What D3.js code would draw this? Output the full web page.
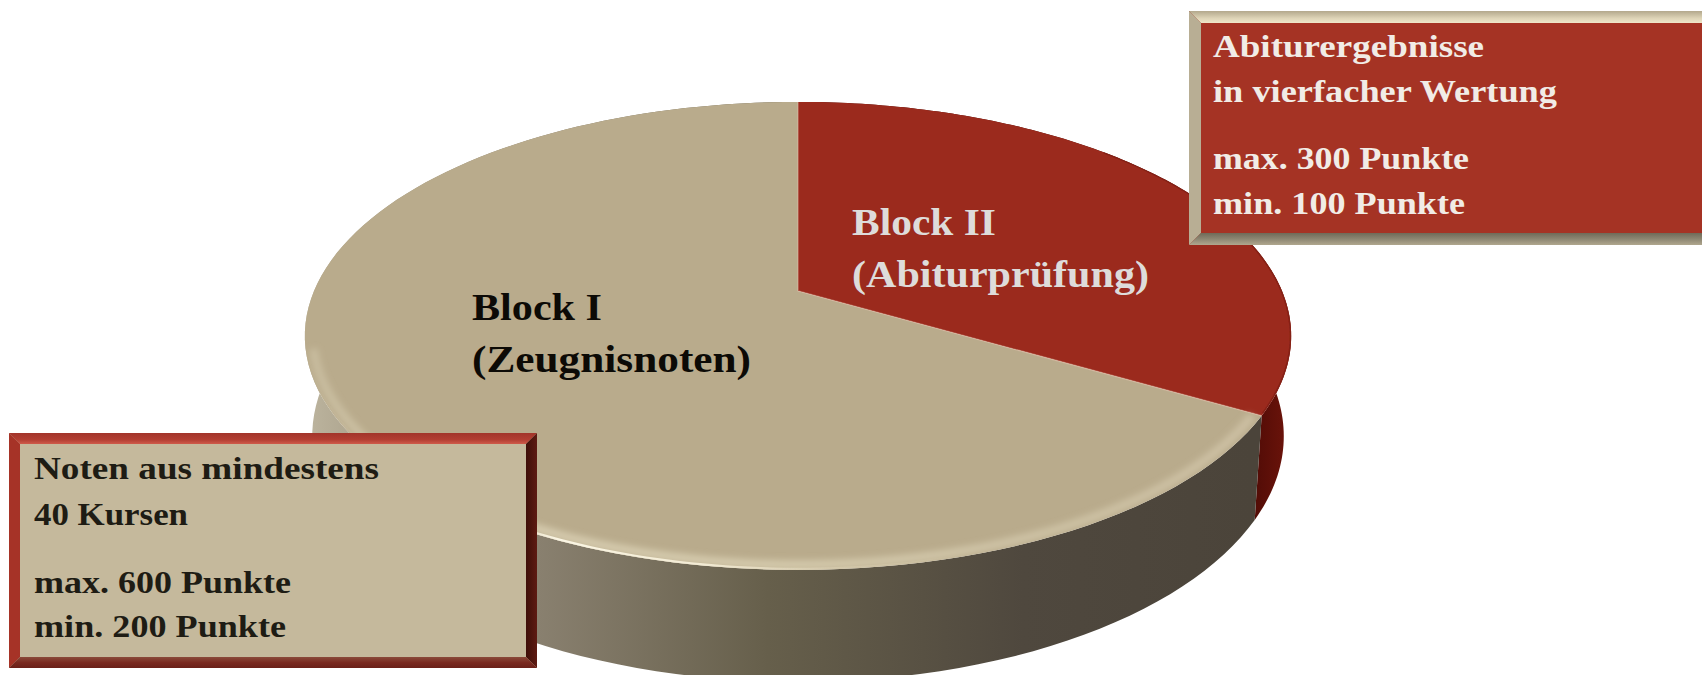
<!DOCTYPE html>
<html>
<head>
<meta charset="utf-8">
<script src="https://cdn.jsdelivr.net/npm/d3@7"></script>
<style>
  html, body { margin: 0; padding: 0; background: #fff; overflow: hidden; }
  text { font-family: "Liberation Serif", serif; font-weight: 700; }
</style>
</head>
<body>
<div id="chart"></div>
<script>
// Pie values (clockwise from the top)
const blocks = ['Block II', 'Block I'];
const points = [300, 600];
const topColors = ['#9b2a1d', '#b9ab8c'];

const sliceLabels = [
    ['Block II', '(Abiturprüfung)'],
    ['Block I', '(Zeugnisnoten)']
];
const noteLines = [
    ['Abiturergebnisse', 'in vierfacher Wertung', 'max. 300 Punkte', 'min. 100 Punkte'],
    ['Noten aus mindestens', '40 Kursen', 'max. 600 Punkte', 'min. 200 Punkte']
];

const width = 1702, height = 675;

const svg = d3.select('#chart').append('svg')
    .attr('width', width)
    .attr('height', height);
const defs = svg.append('defs');

// Tilted disc: a circle seen in perspective
const cx = 798, cy = 291;
const rx = 484, ry = 225.4, tilt = 0.192;
const depth = 98, bottomX = 0.985, bottomY = 1.05;

function project(angle, r, dy, sx, sy) {
    const u = r * Math.sin(angle), v = -r * Math.cos(angle);
    const w = 1 - tilt * v;
    return [cx + sx * rx * u / w, cy + dy + sy * ry * v / w];
}
const onTop = (a, r) => project(a, r, 0, 1, 1);
const onBottom = a => project(a, 1, depth, bottomX, bottomY);

const line = d3.line();
const arcAngles = (a0, a1) => d3.range(0, 121).map(i => a0 + (a1 - a0) * i / 120);

const slices = d3.pie().sort(null).value(d => d)(points);

function gradient(id, x1, y1, x2, y2, stops) {
    const g = defs.append('linearGradient')
        .attr('id', id)
        .attr('gradientUnits', 'userSpaceOnUse')
        .attr('x1', x1).attr('y1', y1).attr('x2', x2).attr('y2', y2);
    stops.forEach(s => g.append('stop')
        .attr('offset', s[0])
        .attr('stop-color', s[1])
        .attr('stop-opacity', s[2] === undefined ? 1 : s[2]));
}

function softFilter(id, amount) {
    defs.append('filter').attr('id', id)
        .attr('filterUnits', 'userSpaceOnUse')
        .attr('x', 0).attr('y', 0).attr('width', width).attr('height', height)
        .append('feGaussianBlur').attr('stdDeviation', amount);
}
softFilter('soft', 3);
softFilter('thin', 0.7);

gradient('wallTan', 305, 0, 1250, 0, [
    [0, '#bdb59f'], [0.06, '#aca38d'], [0.24, '#8a8170'],
    [0.49, '#665f4b'], [0.76, '#4f483e'], [1, '#4b443a']
]);
gradient('wallRed', 1245, 0, 1290, 0, [[0, '#4a0a05'], [1, '#6e140b']]);
gradient('rimWide', 305, 0, 1254, 0, [
    [0, '#e0d8bc', 0.35], [0.2, '#e6dec2', 0.6], [0.5, '#e2d9bc', 0.65],
    [0.8, '#dcd2b6', 0.55], [1, '#d8ccb0', 0.6]
]);
gradient('rimLine', 305, 0, 1254, 0, [
    [0, '#f5eeda', 0], [0.17, '#f5eeda', 0.3], [0.27, '#fbf6e4', 1], [0.42, '#f7f0da', 0.9],
    [0.55, '#efe6cc', 0.3], [0.7, '#efe6cc', 0]
]);

// Side walls first, the top surface covers what lies behind it
svg.selectAll('.wall')
    .data(slices)
    .join('path')
    .attr('class', 'wall')
    .attr('fill', (d, i) => i === 0 ? 'url(#wallRed)' : 'url(#wallTan)')
    .attr('d', d => {
        const as = arcAngles(d.startAngle, d.endAngle);
        const top = as.map(a => onTop(a, 1));
        const bottom = as.slice().reverse().map(onBottom);
        return line(top.concat(bottom)) + 'Z';
    });

// Top surface
svg.selectAll('.top')
    .data(slices)
    .join('path')
    .attr('class', 'top')
    .attr('fill', (d, i) => topColors[i])
    .attr('d', d => {
        const edge = arcAngles(d.startAngle, d.endAngle).map(a => onTop(a, 1));
        return line([[cx, cy]].concat(edge)) + 'Z';
    });

// Bevel along the front of the rim
const clip = defs.append('clipPath').attr('id', 'discClip');
clip.append('path').attr('d', line(arcAngles(0, 2 * Math.PI).map(a => onTop(a, 1))) + 'Z');

const rim = svg.append('g').attr('clip-path', 'url(#discClip)');
const frontArc = arcAngles(slices[1].startAngle + 0.01, 1.42 * Math.PI);
rim.append('path')
    .attr('fill', 'none')
    .attr('stroke', 'url(#rimWide)')
    .attr('stroke-width', 9)
    .attr('filter', 'url(#soft)')
    .attr('d', line(frontArc.map(a => onTop(a, 0.985))));
rim.append('path')
    .attr('fill', 'none')
    .attr('stroke', 'url(#rimLine)')
    .attr('stroke-width', 3)
    .attr('filter', 'url(#thin)')
    .attr('d', line(frontArc.map(a => onTop(a, 0.998))));
rim.append('path')
    .attr('fill', 'none')
    .attr('stroke', '#7a1d12')
    .attr('stroke-opacity', 0.7)
    .attr('stroke-width', 2)
    .attr('filter', 'url(#thin)')
    .attr('d', line(arcAngles(slices[0].startAngle + 0.8, slices[0].endAngle - 0.01).map(a => onTop(a, 0.999))));

// Pale seam between the two slices
svg.append('path')
    .attr('fill', 'none')
    .attr('stroke', '#e8c4ac')
    .attr('stroke-opacity', 0.4)
    .attr('stroke-width', 1.5)
    .attr('d', line([onTop(slices[0].startAngle, 1), [cx, cy], onTop(slices[0].endAngle, 1)]));

// Slice labels
const labelPos = [
    { x: 852, y: [235, 287], widths: [144, 297], fill: '#dedcda', size: 38 },
    { x: 472, y: [320, 372], widths: [130, 279], fill: '#0c0a06', size: 38 }
];
svg.selectAll('.slice-label')
    .data(sliceLabels)
    .join('g')
    .attr('class', 'slice-label')
    .each(function (lines, i) {
        const p = labelPos[i];
        d3.select(this).selectAll('text')
            .data(lines)
            .join('text')
            .attr('x', p.x)
            .attr('y', (d, j) => p.y[j])
            .attr('font-size', p.size)
            .attr('fill', p.fill)
            .attr('textLength', (d, j) => p.widths[j])
            .attr('lengthAdjust', 'spacingAndGlyphs')
            .text(d => d);
    });

// Bevelled note boxes
const boxes = [
    {
        x: 1189, y: 11, w: 530, h: 234, b: 12, fill: '#a53324', ink: '#f1ece6',
        textX: 1213, base: [57, 102, 169, 214], lens: [271, 344, 256, 252],
        topBand: ['#b3a88c', '#ddd3b6', '#f0e6c8'], left: '#b8ae94', right: '#8a8270', bottom: '#837c6a',
        bottomBand: ['#6f6a58', '#8d8672', '#b0a78e']
    },
    {
        x: 9, y: 433, w: 528, h: 235, b: 11, fill: '#c5b99c', ink: '#1e1c14',
        textX: 34, base: [479, 525, 593, 637], lens: [345, 154, 257, 252],
        topBand: ['#a2342a', '#b23e32', '#cf5a4a'], left: '#a63327', right: '#5e1a12', bottom: '#6e2118',
        bottomBand: ['#8a4a3a', '#7a2a20', '#6a2018']
    }
];

boxes.forEach((b, i) => {
    const g = svg.append('g').attr('class', 'note');
    const x0 = b.x, x1 = b.x + b.w, y0 = b.y, y1 = b.y + b.h, t = b.b;

    gradient('band' + i, 0, y0, 0, y0 + t, [[0, b.topBand[0]], [0.6, b.topBand[1]], [1, b.topBand[2]]]);
    gradient('foot' + i, 0, y1 - t, 0, y1, [[0, b.bottomBand[0]], [0.5, b.bottomBand[1]], [1, b.bottomBand[2]]]);
    gradient('side' + i, x1 - t, 0, x1, 0, [[0, i ? '#3e0f09' : '#6f6a58'], [1, b.right]]);

    g.append('rect').attr('x', x0).attr('y', y0).attr('width', b.w).attr('height', b.h).attr('fill', b.fill);
    g.append('path').attr('fill', `url(#band${i})`)
        .attr('d', line([[x0, y0], [x1, y0], [x1 - t, y0 + t], [x0 + t, y0 + t]]) + 'Z');
    g.append('path').attr('fill', b.left)
        .attr('d', line([[x0, y0], [x0 + t, y0 + t], [x0 + t, y1 - t], [x0, y1]]) + 'Z');
    g.append('path').attr('fill', `url(#side${i})`)
        .attr('d', line([[x1, y0], [x1 - t, y0 + t], [x1 - t, y1 - t], [x1, y1]]) + 'Z');
    g.append('path').attr('fill', `url(#foot${i})`)
        .attr('d', line([[x0, y1], [x0 + t, y1 - t], [x1 - t, y1 - t], [x1, y1]]) + 'Z');

    g.selectAll('text')
        .data(noteLines[i])
        .join('text')
        .attr('x', b.textX)
        .attr('y', (d, j) => b.base[j])
        .attr('font-size', 32)
        .attr('fill', b.ink)
        .attr('textLength', (d, j) => b.lens[j])
        .attr('lengthAdjust', 'spacingAndGlyphs')
        .text(d => d);
});
</script>
</body>
</html>
